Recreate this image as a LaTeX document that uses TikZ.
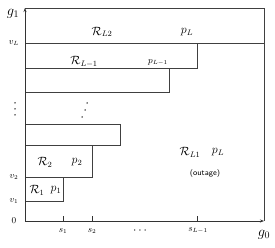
\documentclass[tikz,border=0pt]{standalone}
\usetikzlibrary{arrows.meta}
\begin{document}
\begin{tikzpicture}[x=1pt,y=-1pt,
  ln/.style={draw=black!75,line width=0.8pt},
  ax/.style={draw=black!80,line width=0.6pt,-{Stealth[length=4pt,width=3pt]}},
  lbl/.style={inner sep=0pt,font=\fontsize{12}{13}\selectfont},
  big/.style={inner sep=0pt,font=\fontsize{14}{15}\selectfont},
  slbl/.style={inner sep=0pt,font=\fontsize{9}{10}\selectfont},
  dotc/.style={fill=black,circle,inner sep=0pt,minimum size=1.5pt}]
\useasboundingbox (0,0) rectangle (275,248);
% key coordinates
\coordinate (O) at (25,221);
\coordinate (ytop) at (25,8);
\coordinate (xend) at (264,221);
\coordinate (tr) at (264,8);
\coordinate (vLl) at (25,43);
\coordinate (vLr) at (264,43);
% outer box and axes
\draw[ln] (ytop) -- (tr) -- (xend);
\draw[ln] (vLl) -- (vLr);
\draw[ln] (25,43) rectangle (197,68);
\draw[ln] (25,68) rectangle (169,92);
\draw[ln] (25,124) rectangle (120,145);
\draw[ln] (25,145) rectangle (92,177);
\draw[ln] (25,177) rectangle (63,201);
\draw[ax] (O) -- (ytop);
\draw[ax] (O) -- (xend);
% ticks
\coordinate (t1) at (63,221); \coordinate (t1u) at (63,216);
\coordinate (t2) at (92,221); \coordinate (t2u) at (92,216);
\coordinate (t3) at (197,221); \coordinate (t3u) at (197,216);
\draw[ax,-] (t1) -- (t1u);
\draw[ax,-] (t2) -- (t2u);
\draw[ax,-] (t3) -- (t3u);
% axis labels
\node[big] (g1) at (13,14) {$g_1$};
\node[slbl] (vL) at (14,43) {$v_L$};
\node[dotc] (vd1) at (15,103) {};
\node[dotc] (vd2) at (15,109) {};
\node[dotc] (vd3) at (15,115) {};
\node[slbl] (v2) at (14,177) {$v_2$};
\node[slbl] (v1) at (14,201) {$v_1$};
\node[slbl] (zero) at (14,221) {$0$};
\node[slbl] (s1) at (63,231) {$s_1$};
\node[slbl] (s2) at (92,231) {$s_2$};
\node[lbl] (cd) at (140,231) {$\cdots$};
\node[slbl] (sL) at (198,230) {$s_{L-1}$};
\node[big] (g0) at (264,235) {$g_0$};
% region labels
\node[lbl] (RL2) at (102,32) {$\mathcal{R}_{L2}$};
\node[lbl] (pL) at (187,32) {$p_L$};
\node[lbl] (RL1m) at (84,62) {$\mathcal{R}_{L-1}$};
\node[slbl] (pL1) at (158,62) {$p_{L-1}$};
\node[dotc] (d1) at (87,103) {};
\node[dotc] (d2) at (85,110) {};
\node[dotc] (d3) at (82,117) {};
\node[lbl] (R2) at (45,162) {$\mathcal{R}_2$};
\node[lbl] (p2) at (77,162) {$p_2$};
\node[lbl] (R1) at (37,190) {$\mathcal{R}_1$};
\node[lbl] (p1) at (56,190) {$p_1$};
\node[lbl] (RL1) at (190,152) {$\mathcal{R}_{L1}$};
\node[lbl] (pLb) at (218,152) {$p_L$};
\node[inner sep=0pt,font=\sffamily\fontsize{8}{9}\selectfont] (out) at (205,173) {(outage)};
\end{tikzpicture}
\end{document}
